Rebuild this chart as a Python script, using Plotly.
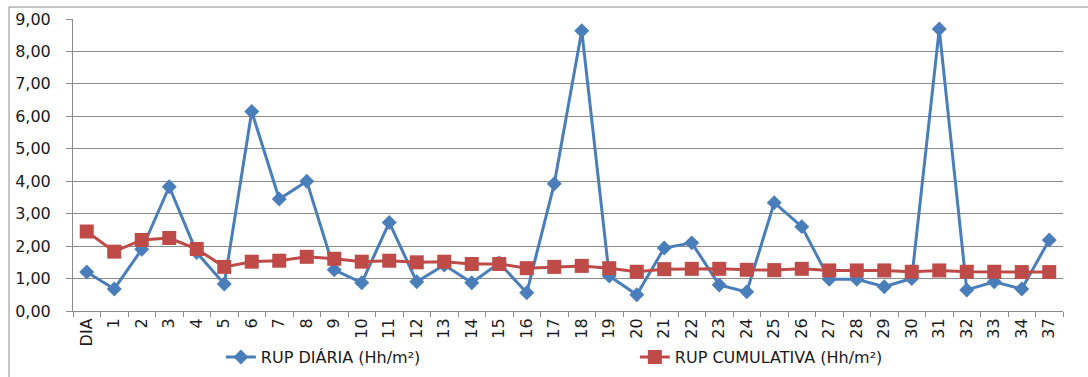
import plotly.graph_objects as go

categorias = ["DIA", "1", "2", "3", "4", "5", "6", "7", "8", "9", "10", "11",
              "12", "13", "14", "15", "16", "17", "18", "19", "20", "21", "22",
              "23", "24", "25", "26", "27", "28", "29", "30", "31", "32", "33",
              "34", "37"]

rup_diaria = [1.20, 0.68, 1.90, 3.83, 1.80, 0.83, 6.15, 3.45, 4.00, 1.27,
              0.87, 2.73, 0.90, 1.42, 0.87, 1.48, 0.56, 3.92, 8.64, 1.08,
              0.50, 1.94, 2.10, 0.80, 0.59, 3.34, 2.60, 0.98, 0.98, 0.75,
              1.00, 8.69, 0.65, 0.90, 0.68, 2.19]

rup_cumulativa = [2.45, 1.83, 2.19, 2.25, 1.91, 1.36, 1.52, 1.55, 1.67, 1.61,
                  1.52, 1.55, 1.50, 1.52, 1.45, 1.45, 1.32, 1.36, 1.39, 1.32,
                  1.21, 1.29, 1.30, 1.30, 1.27, 1.26, 1.30, 1.25, 1.25, 1.25,
                  1.21, 1.25, 1.21, 1.21, 1.20, 1.20]

AZUL = "#4A7EBB"
VERMELHO = "#BE4B48"
CINZA = "#8C8C8C"
FONTE = "'DejaVu Sans', sans-serif"

fig = go.Figure()
fig.add_trace(go.Scatter(
    x=categorias, y=rup_diaria, mode="lines+markers",
    name="RUP DIÁRIA (Hh/m²)",
    line=dict(color=AZUL, width=3),
    marker=dict(symbol="diamond", size=11.5, color=AZUL),
))
fig.add_trace(go.Scatter(
    x=categorias, y=rup_cumulativa, mode="lines+markers",
    name="RUP CUMULATIVA (Hh/m²)",
    line=dict(color=VERMELHO, width=3),
    marker=dict(symbol="square", size=14, color=VERMELHO),
))

fig.update_layout(
    width=1088, height=377,
    margin=dict(l=73, r=25, t=19, b=66, autoexpand=False),
    paper_bgcolor="white", plot_bgcolor="white",
    separators=",.",
    font=dict(family=FONTE, size=16, color="#1a1a1a"),
    showlegend=True,
    legend=dict(
        orientation="h",
        xref="container", x=0.203, xanchor="left",
        yref="container", y=0.053, yanchor="middle",
        entrywidth=369, entrywidthmode="pixels",
        font=dict(family=FONTE, size=16, color="#1a1a1a"),
        bgcolor="rgba(0,0,0,0)",
    ),
    xaxis=dict(
        type="category", range=[-0.5, len(categorias) - 0.5],
        tickangle=-90, tickson="boundaries",
        ticks="outside", ticklen=5, tickcolor=CINZA,
        showline=True, linecolor=CINZA, linewidth=1,
        showgrid=False, automargin=False,
    ),
    yaxis=dict(
        range=[0, 9], dtick=1, tickformat=".2f",
        ticks="outside", ticklen=6, tickcolor=CINZA,
        ticklabelstandoff=12,
        showline=True, linecolor=CINZA, linewidth=1,
        showgrid=True, gridcolor=CINZA, gridwidth=1,
        zeroline=False, automargin=False,
    ),
    shapes=[dict(
        type="rect", xref="paper", yref="paper",
        x0=-0.0646, x1=1.2, y0=-0.5, y1=1.041,
        line=dict(color=CINZA, width=1), fillcolor="rgba(0,0,0,0)",
        layer="below",
    )],
)

fig.write_html("out.html")
